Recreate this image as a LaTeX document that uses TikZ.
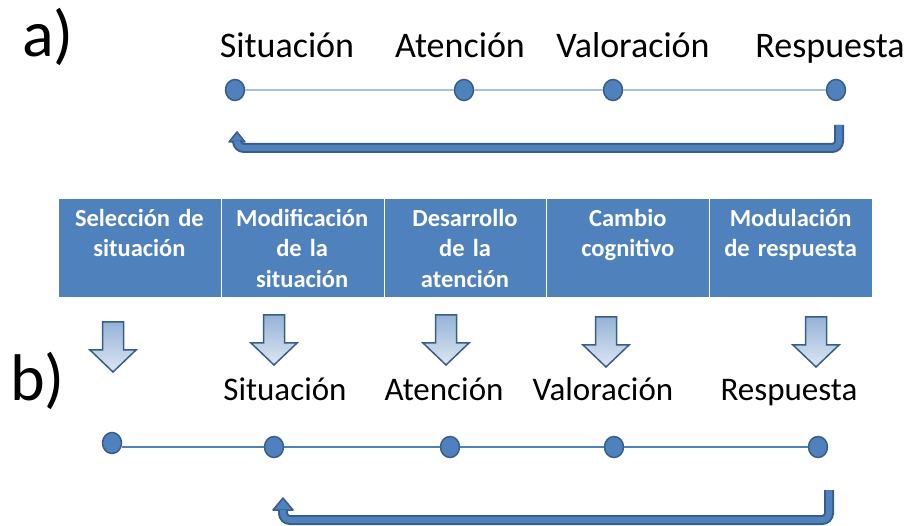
\documentclass[tikz,border=0pt]{standalone}
\usepackage{fontspec}
\setmainfont{Carlito}
\usepackage{tikz}
\usetikzlibrary{shapes}
\definecolor{boxblue}{HTML}{4F81BD}
\definecolor{darkblue}{HTML}{385D8A}
\definecolor{paleblue}{HTML}{A7BFDE}
\definecolor{shadetop}{HTML}{95B3D7}
\definecolor{shadebot}{HTML}{DCE6F2}
\tikzset{
  stagedot/.style={ellipse, fill=boxblue, draw=darkblue, line width=1.5pt, minimum width=19pt, minimum height=21pt, inner sep=0pt},
  stagecell/.style={rectangle, anchor=north west, fill=boxblue, draw=white, line width=1pt, minimum width=162.8pt, minimum height=99pt, inner sep=0pt},
  celltext/.style={anchor=base, text=white, align=center, text width=158pt, inner sep=0pt, font=\bfseries\fontsize{24.5}{30.5}\selectfont},
  toplabel/.style={anchor=base, inner sep=0pt, font=\fontsize{36}{40}\selectfont},
  botlabel/.style={anchor=base, inner sep=0pt, font=\fontsize{33}{38}\selectfont},
  partlabel/.style={anchor=base west, inner sep=0pt, font=\fontsize{66}{72}\selectfont},
  returnband/.style={draw=darkblue, line width=2pt, double=boxblue, double distance=6pt, rounded corners=7pt},
  returnhead/.style={fill=boxblue, draw=darkblue, line width=1.5pt, line join=round}
}
\newcommand{\stagedotat}[3]{\node[stagedot] (#1) at ( #2 , #3 ) {};}
\newcommand{\stagecellat}[4]{\node[stagecell] (#1) at ( #2 , 198 ) {}; \node[celltext] (#1t) at ( #2 + 81.4 , 226.5 ) {#3 #4};}
\newcommand{\cellarrow}[2]{\shade[top color=shadetop, bottom color=shadebot, draw=darkblue, line width=1.5pt] ( #1 - 10.5 , #2 ) -- ( #1 + 10.5 , #2 ) -- ( #1 + 10.5 , #2 + 28 ) -- ( #1 + 23 , #2 + 28 ) -- ( #1 , #2 + 50 ) -- ( #1 - 23 , #2 + 28 ) -- ( #1 - 10.5 , #2 + 28 ) -- cycle;}

\begin{document}
\begin{tikzpicture}[x=1pt, y=-1pt]
        \useasboundingbox (0,0) rectangle (918,526);

        % part a
        \node[partlabel] (pa) at (22,57) {a)};
        \node[toplabel] (sitA) at (287,58) {Situación};
        \node[toplabel] (atenA) at (460,58) {Atención};
        \node[toplabel] (valA) at (633,58) {Valoración};
        \node[toplabel] (respA) at (830,58) {Respuesta};

        \stagedotat{dSitA}{235}{90}
        \stagedotat{dAtenA}{464}{90}
        \stagedotat{dValA}{613}{90}
        \stagedotat{dRespA}{836}{90}
        \draw[paleblue, line width=1.8pt] (dSitA) -- (dAtenA) -- (dValA) -- (dRespA);

        \coordinate (backA) at (839,125);
        \coordinate (headA) at (237,142);
        \draw[returnhead] (229,142) -- (237,132) -- (245,142) -- cycle;
        \draw[returnband] (backA) -- (839,148) -- (237,148) -- (headA);

        % stages
        \stagecellat{sel}{58}{Selección de}{\\ situación}
        \stagecellat{mod}{220.8}{Modificación}{\\ de la\\ situación}
        \stagecellat{des}{383.6}{Desarrollo}{\\ de la\\ atención}
        \stagecellat{cam}{546.4}{Cambio}{\\ cognitivo}
        \stagecellat{res}{709.2}{Modulación}{\\ de respuesta}

        \cellarrow{113}{322}
        \cellarrow{274}{315}
        \cellarrow{446}{315}
        \cellarrow{606}{317}
        \cellarrow{816}{317}

        % part b
        \node[partlabel] (pb) at (10,400) {b)};
        \node[botlabel] (sitB) at (285,400) {Situación};
        \node[botlabel] (atenB) at (444,400) {Atención};
        \node[botlabel] (valB) at (603,400) {Valoración};
        \node[botlabel] (respB) at (789,400) {Respuesta};

        \stagedotat{dSelB}{112}{443}
        \stagedotat{dSitB}{274}{447}
        \stagedotat{dAtenB}{450}{447}
        \stagedotat{dValB}{614}{447}
        \stagedotat{dRespB}{818}{447}
        \draw[boxblue, line width=1.3pt] (dSelB.east |- dSitB) -- (dSitB) -- (dAtenB) -- (dValB) -- (dRespB);

        \coordinate (backB) at (829,490);
        \coordinate (headB) at (283,510);
        \draw[returnhead] (273,510) -- (283,498) -- (293,510) -- cycle;
        \draw[returnband] (backB) -- (829,520) -- (283,520) -- (headB);
\end{tikzpicture}
\end{document}
